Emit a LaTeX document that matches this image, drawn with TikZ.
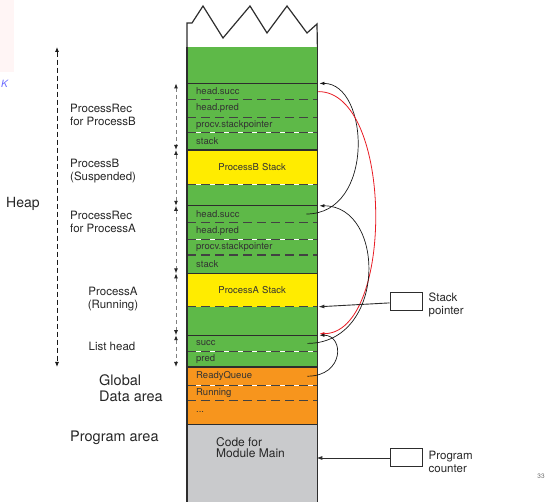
\documentclass[tikz,border=0pt]{standalone}
\usepackage{fontspec}
\setmainfont{TeX Gyre Heros}
\usetikzlibrary{arrows.meta,positioning}

\definecolor{memgreen}{RGB}{94,185,72}
\definecolor{memyellow}{RGB}{255,236,0}
\definecolor{memorange}{RGB}{247,149,29}
\definecolor{memgrey}{RGB}{201,202,204}
\definecolor{memline}{RGB}{45,45,45}
\definecolor{ptrred}{RGB}{232,28,36}

\begin{document}
\begin{tikzpicture}[x=1pt, y=-1pt,
        memcell/.style={rectangle, minimum width=130pt, text width=112pt, inner xsep=9pt, inner ysep=0pt,
        align=left, text=black!80, font=\fontsize{9.5}{10}\selectfont},
        gcell/.style={memcell, fill=memgreen},
        ycell/.style={memcell, fill=memyellow, align=center},
        ocell/.style={memcell, fill=memorange},
        wall/.style={draw=memline, line width=1.4pt},
        solidsep/.style={draw=memline, line width=1.3pt},
        dashsep/.style={draw=memline!90, line width=1.1pt, dash pattern=on 9pt off 5pt},
        sidelabel/.style={inner sep=0pt, align=left, text=black!85, font=\fontsize{11.5}{12.5}\selectfont},
        biglabel/.style={inner sep=0pt, align=left, text=black!85, font=\fontsize{14.5}{16}\selectfont},
        segspan/.style={draw=black!50, line width=0.9pt, dash pattern=on 4pt off 3pt,
        {Latex[length=5pt,width=4pt,color=black!85]}-{Latex[length=5pt,width=4pt,color=black!85]}},
        heaparrow/.style={draw=black!90, line width=0.8pt, dash pattern=on 5pt off 3pt,
        {Latex[length=5pt,width=4pt]}-{Latex[length=5pt,width=4pt]}},
        link/.style={draw=black!90, line width=0.7pt, -{Latex[length=5pt,width=3.5pt]}},
        ptrline/.style={draw=memline, line width=0.9pt, -{Latex[length=6pt,width=4pt]}},
        ptrbox/.style={draw=memline, line width=1pt, fill=white, minimum width=32pt, minimum height=18pt},
    ]
        \useasboundingbox (0,0) rectangle (555,502);

        \fill[red!4] (0,0) rectangle (14,72);
        \node (slidek) [inner sep=0pt, text=blue!60, font=\itshape\fontsize{10}{10}\selectfont, anchor=west] at (1,84) {K};

        \node (g0) [gcell, anchor=north west, minimum height=36pt] at (187,47) {};
        \node (bsucc) [gcell, below=0pt of g0, minimum height=16pt] {head.succ};
        \node (bpred) [gcell, below=0pt of bsucc, minimum height=17pt] {head.pred};
        \node (bsp) [gcell, below=0pt of bpred, minimum height=15pt] {procv.stackpointer};
        \node (bstk) [gcell, below=0pt of bsp, minimum height=17pt] {stack};
        \node (ystkB) [ycell, below=0pt of bstk, minimum height=34pt] {ProcessB Stack};
        \node (g1) [gcell, below=0pt of ystkB, minimum height=21pt] {};
        \node (asucc) [gcell, below=0pt of g1, minimum height=16pt] {head.succ};
        \node (apred) [gcell, below=0pt of asucc, minimum height=17pt] {head.pred};
        \node (asp) [gcell, below=0pt of apred, minimum height=15pt] {procv.stackpointer};
        \node (astk) [gcell, below=0pt of asp, minimum height=18pt] {stack};
        \node (ystkA) [ycell, below=0pt of astk, minimum height=33pt] {ProcessA Stack};
        \node (g2) [gcell, below=0pt of ystkA, minimum height=28pt] {};
        \node (lsucc) [gcell, below=0pt of g2, minimum height=16pt] {succ};
        \node (lpred) [gcell, below=0pt of lsucc, minimum height=15pt] {pred};
        \node (rq) [ocell, below=0pt of lpred, minimum height=18pt] {ReadyQueue};
        \node (run) [ocell, below=0pt of rq, minimum height=15pt] {Running};
        \node (dots) [ocell, below=0pt of run, minimum height=23pt] {...};
        \node (code) [memcell, fill=memgrey, below=0pt of dots, minimum height=83pt] {};
        \node (codetext) [sidelabel, font=\fontsize{12}{11.5}\selectfont, anchor=north west] at (216,437) {Code for\\Module Main};

        \foreach \c in {g0, bstk, g1, astk, g2, lpred, dots}
            \draw[solidsep] (\c.south west) -- (\c.south east);
        \foreach \c in {bsucc, bpred, bsp, ystkB, asucc, apred, asp, ystkA, lsucc, rq, run}
            \draw[dashsep] (\c.south west) -- (\c.south east);

        \draw[wall] (g0.north west) -- (code.south west) -- (code.south east) -- (g0.north east);
        \draw[wall, line width=1.2pt] (g0.north west) -- (187,23) -- (192,23) -- (203,6) -- (223,38) -- (250,6)
            -- (267,33) -- (287,6) -- (307,33) -- (317,24) -- (g0.north east);

        \draw[heaparrow] (57,0 |- g0.north) -- (57,0 |- lpred.south);
        \foreach \a/\b in {bsucc/ystkB, ystkB/asucc, asucc/ystkA, ystkA/lsucc}
            \draw[segspan] (176,0 |- \a.north) -- (176,0 |- \b.north);
        \draw[segspan] (176,0 |- lsucc.north) -- (176,0 |- lpred.south);

        \node (heap) [biglabel, font=\fontsize{14}{16}\selectfont, anchor=west] at (6,204) {Heap};
        \node (recb) [sidelabel, anchor=west] at (70,115) {ProcessRec\\for ProcessB};
        \node (procb) [sidelabel, anchor=west] at (70,171) {ProcessB\\(Suspended)};
        \node (reca) [sidelabel, anchor=west] at (70,222) {ProcessRec\\for ProcessA};
        \node (proca) [sidelabel, align=center] at (113,299) {ProcessA\\(Running)};
        \node (lhead) [sidelabel] at (112,346) {List head};
        \node (global) [biglabel, anchor=west] at (99,388) {Global\\Data area};
        \node (progarea) [biglabel, anchor=west] at (70,438) {Program area};

        \draw[link] ([xshift=-11pt]asucc.east) .. controls +(69,0) and +(50,0) .. ([xshift=2pt]bsucc.north east);
        \draw[link, draw=ptrred, line width=0.8pt] ([xshift=1pt]bsucc.east) .. controls +(75,0) and +(75,0) .. ([xshift=2pt,yshift=1.5pt]lsucc.north east);
        \draw[link] ([xshift=-10pt]lsucc.east) .. controls +(79,0) and +(67,0) .. ([xshift=2pt]asucc.north east);
        \draw[link] ([xshift=-10pt]rq.east) .. controls +(37,0) and +(25,0) .. ([xshift=2pt]lsucc.north east);

        \node (spbox) [ptrbox] at (406,302) {};
        \node (sptext) [sidelabel, right=6pt of spbox, yshift=-3pt] {Stack\\pointer};
        \node (pcbox) [ptrbox] at (406,458) {};
        \node (pctext) [sidelabel, right=6pt of pcbox, yshift=-4pt] {Program\\counter};
        \draw[ptrline] (spbox) -- ([xshift=1pt]g2.north east);
        \draw[ptrline, shorten >=-1pt] (pcbox) -- (pcbox.west -| code.east);

        \node (pagenum) [inner sep=0pt, text=black!60, font=\fontsize{6.5}{7}\selectfont] at (541,476) {33};
    \end{tikzpicture}
\end{document}
